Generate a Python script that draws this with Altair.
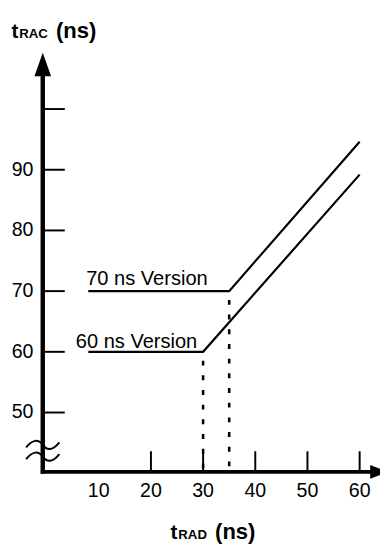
import altair as alt
import pandas as pd

# ---------------- data ----------------
t_rad_70 = [8, 35, 60]
t_rac_70 = [70, 70, 94.6]
t_rad_60 = [8, 30, 60]
t_rac_60 = [60, 60, 89.2]
series_names = ["70 ns Version", "60 ns Version"]

x_tick_values = [20, 30, 40, 50, 60]
x_label_values = [10, 20, 30, 40, 50, 60]
y_tick_values = [50, 60, 70, 80, 90, 100]
y_label_values = [50, 60, 70, 80, 90]

label_text = ["70 ns Version", "60 ns Version"]
label_t = [7.6, 5.6]
label_v = [71.0, 60.7]

# ---------------- layout ----------------
W, H = 380, 541
SX = 5.33      # px per ns (x)
SY = 6.2       # px per ns (y)
X_ZERO = 39.4  # svg px of tRAD = 0
Y_FIFTY = 407.4  # svg px of tRAC = 50
t_min = -X_ZERO / SX
t_max = t_min + W / SX
v_max = 50 + Y_FIFTY / SY
v_min = v_max - H / SY


def px2t(px):
    return (px - X_ZERO) / SX


def px2v(py):
    return 50 + (Y_FIFTY - py) / SY


AX_T = px2t(35.5)   # y-axis position
AX_V = px2v(468)    # x-axis position
FONT = "Liberation Sans"

xs = alt.Scale(domain=[t_min, t_max], nice=False, zero=False)
ys = alt.Scale(domain=[v_min, v_max], nice=False, zero=False)
X = lambda f: alt.X(f, type="quantitative", scale=xs, axis=None)
Y = lambda f: alt.Y(f, type="quantitative", scale=ys, axis=None)

# curves
rows = []
for name, ts, vs in [(series_names[0], t_rad_70, t_rac_70), (series_names[1], t_rad_60, t_rac_60)]:
    for i, (t, v) in enumerate(zip(ts, vs)):
        rows.append({"series": name, "order": i, "tRAD": t, "tRAC": v})
curve_df = pd.DataFrame(rows)
curves = alt.Chart(curve_df).mark_line(color="black", strokeWidth=2.2).encode(
    x=X("tRAD"), y=Y("tRAC"), detail="series:N", order="order:Q")

# dotted drop lines from the break points
drop_df = pd.DataFrame({"tRAD": [t_rad_60[1], t_rad_70[1]],
                        "tRAC": [t_rac_60[1], t_rac_70[1]],
                        "base": [AX_V, AX_V]})
drops = alt.Chart(drop_df).mark_rule(color="black", strokeWidth=2.6, strokeDash=[5, 10],
                                     strokeDashOffset=6).encode(
    x=X("tRAD"), y=Y("tRAC"), y2="base:Q")

# axes lines
yaxis_df = pd.DataFrame({"t": [AX_T], "v0": [px2v(470)], "v1": [px2v(62)]})
yaxis = alt.Chart(yaxis_df).mark_rule(color="black", strokeWidth=4.5).encode(
    x=X("t"), y=Y("v0"), y2="v1:Q")
xaxis_df = pd.DataFrame({"v": [AX_V], "t0": [px2t(33.5)], "t1": [px2t(372)]})
xaxis = alt.Chart(xaxis_df).mark_rule(color="black", strokeWidth=4).encode(
    y=Y("v"), x=X("t0"), x2="t1:Q")

# arrow heads
yarrow = alt.Chart(pd.DataFrame({"t": [AX_T], "v": [px2v(52)]})).mark_point(
    shape="M-0.708,1 L0.708,1 L0,-1 Z", filled=True, color="black", opacity=1, size=576
).encode(x=X("t"), y=Y("v"))
xarrow = alt.Chart(pd.DataFrame({"t": [px2t(379)], "v": [AX_V]})).mark_point(
    shape="M-1,-0.78 L1,0 L-1,0.78 Z", filled=True, color="black", opacity=1, size=324
).encode(x=X("t"), y=Y("v"))

# axis break waves
wave_df = pd.DataFrame({"t": [AX_T, AX_T], "v": [px2v(440.5), px2v(452.5)]})
waves = alt.Chart(wave_df).mark_point(
    shape="M-1,0.15 C-0.6,-0.35 -0.25,-0.35 0,0 C0.25,0.35 0.6,0.35 1,-0.15",
    filled=False, color="black", opacity=1, strokeWidth=2, size=1156
).encode(x=X("t"), y=Y("v"))

# ticks
ytick_df = pd.DataFrame({"v": y_tick_values, "t0": AX_T, "t1": px2t(58)})
yticks = alt.Chart(ytick_df).mark_rule(color="black", strokeWidth=2).encode(
    y=Y("v"), x=X("t0"), x2="t1:Q")
xtick_df = pd.DataFrame({"t": x_tick_values, "v0": AX_V, "v1": px2v(447)})
xticks = alt.Chart(xtick_df).mark_rule(color="black", strokeWidth=2).encode(
    x=X("t"), y=Y("v0"), y2="v1:Q")

# tick labels
ylab_df = pd.DataFrame({"v": y_label_values, "t": px2t(26), "lab": [str(v) for v in y_label_values]})
ylabels = alt.Chart(ylab_df).mark_text(align="right", baseline="middle", font=FONT,
                                       fontSize=20, color="black").encode(
    x=X("t"), y=Y("v"), text="lab:N")
xlab_df = pd.DataFrame({"t": x_label_values, "v": px2v(494), "lab": [str(v) for v in x_label_values]})
xlabels = alt.Chart(xlab_df).mark_text(align="center", baseline="alphabetic", font=FONT,
                                       fontSize=20, color="black").encode(
    x=X("t"), y=Y("v"), text="lab:N")

# series labels
ser_df = pd.DataFrame({"t": label_t, "v": label_v, "lab": label_text})
serlabels = alt.Chart(ser_df).mark_text(align="left", baseline="alphabetic", font=FONT,
                                        fontSize=20.5, color="black").encode(
    x=X("t"), y=Y("v"), text="lab:N")


def title_piece(txt, px, py, size):
    return alt.Chart(pd.DataFrame({"s": [txt]})).mark_text(
        align="left", baseline="alphabetic", font=FONT, fontWeight="bold",
        fontSize=size, color="black").encode(x=alt.value(px), y=alt.value(py), text="s:N")


titles = [
    title_piece("t", 3.7, 25, 21), title_piece("RAC", 11.5, 25, 13.5), title_piece("(ns)", 49, 25, 22.5),
    title_piece("t", 166, 537, 21), title_piece("RAD", 174, 537, 13.5), title_piece("(ns)", 211.5, 537, 22.5),
]

chart = alt.layer(
    curves, drops, xticks, yticks, yaxis, xaxis, yarrow, xarrow, waves,
    ylabels, xlabels, serlabels, *titles
).properties(
    width=W, height=H, padding=0, autosize=alt.AutoSizeParams(type="none")
).configure_view(stroke=None)

chart.save("out.html", embed_options={"renderer": "svg", "actions": False})
